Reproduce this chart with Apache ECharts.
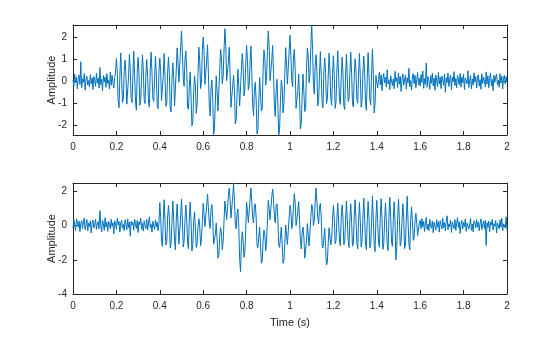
<!DOCTYPE html>
<html>
<head>
<meta charset="utf-8">
<script src="https://cdn.jsdelivr.net/npm/echarts@6/dist/echarts.min.js"></script>
<style>
  html, body { margin: 0; padding: 0; background: #ffffff; }
  #chart { width: 560px; height: 337px; }
</style>
</head>
<body>
<div id="chart"></div>
<script>
// Sample spacing of both recordings (seconds)
const sampleStep = 0.004;

// Upper trace: amplitude samples
const signalTop = [
  0.05, -0.22, 0.31, -0.08, 0.18, -0.35, 0.12, 0.27, -0.15, 0.88,
  -0.30, 0.10, -0.05, 0.34, -0.41, 0.07, 0.22, -0.18, 0.03, -0.27,
  0.29, -0.12, 0.15, -0.38, 0.21, 0.02, -0.24, 0.36, -0.09, 0.14,
  -0.31, 0.62, -0.16, 0.08, -0.44, 0.25, -0.03, 0.19, -0.28, 0.33,
  -0.11, 0.04, -0.36, 0.41, -0.19, 0.26, -0.07, -0.32, 0.17, 0.38,
  1.02, 0.41, -0.88, -1.21, 0.25,
  1.28, 0.19, -0.97, -0.79, 0.44,
  0.95, 0.30, -1.05, -1.12, 0.18,
  1.21, 0.47, -0.74, -0.98, 0.29,
  1.36, 0.22, -0.91, -1.32, 0.40,
  1.08, 0.35, -1.10, -0.85, 0.21,
  1.19, 0.51, -0.83, -1.02, 0.33,
  0.98, 0.16, -0.95, -1.18, 0.48,
  1.31, 0.38, -0.79, -0.93, 0.12,
  1.12, 0.27, -1.08, -1.25, 0.35,
  1.04, 0.45, -0.90, -0.96, 0.24,
  1.25, 0.20, -1.15, -1.04, 0.39,
  1.10, 0.33,
  -1.23, -1.40, 0.09, 0.83, 0.13, -1.13, -1.13, 0.54,
  1.51, 0.82, -0.05, -0.12, 1.53, 2.28, 1.31, 0.13, -0.24, 0.99,
  1.37, 0.55, -1.18, -1.28, -0.26, 0.42, -0.72, -2.03, -1.87, -0.54,
  0.24, -0.16, -1.46, -1.07, 0.34, 1.54, 0.92, -0.34, -0.04, 1.38,
  2.00, 1.36, -0.15, -0.08, 0.94, 1.65, 0.34, -1.10, -1.58, -0.35,
  0.05, -0.75, -2.43, -2.14, -0.95, 0.24, -0.50, -1.36, -1.27, 0.50,
  1.44, 1.10, -0.11, 0.22, 1.42, 2.38, 1.62, 0.02, -0.05, 0.85,
  1.54, 0.32, -1.19, -1.23, -0.20, 0.26, -0.42, -1.95, -1.77, -0.57,
  0.54, -0.25, -1.13, -1.12, 0.49, 1.25, 0.71, -0.67, -0.37, 0.79,
  1.62, 0.94, -0.40, -0.17, 0.85, 1.60, 0.35, -1.09, -1.58, -0.43,
  -0.06, -0.84, -2.40, -2.20, -1.04, 0.16, -0.52, -1.36, -1.25, 0.50,
  1.41, 1.06, -0.19, 0.18, 1.39, 2.28, 1.51, 0.02, 0.06, 0.96,
  1.62, 0.35, -1.09, -1.61, -0.43, 0.08, -1.04, -2.45, -2.22, -0.89,
  0.04, -0.27, -1.44, -1.02, 0.32, 1.52, 0.82, -0.14, -0.20, 1.33,
  2.08, 1.18, 0.03, -0.26, 1.05, 1.44, 0.53, -1.24, -1.32, -0.44,
  0.31, -0.74, -2.18, -1.92, -0.71, 0.32, -0.50, -1.38, -1.26, 0.54,
  1.50, 1.16, -0.08, 0.29, 1.57, 2.55, 1.46,
  -0.09, -0.59, 0.67,
  1.20, 0.44, -1.13, -0.88, 0.31,
  1.34, 0.25, -0.96, -1.21, 0.42,
  1.05, 0.38, -1.02, -0.84, 0.19,
  1.27, 0.51, -0.79, -1.10, 0.30,
  1.15, 0.22, -1.24, -0.95, 0.46,
  1.38, 0.33, -0.87, -1.06, 0.15,
  1.09, 0.41, -1.12, -1.29, 0.27,
  1.22, 0.18, -0.93, -0.82, 0.39,
  1.31, 0.36, -1.05, -1.17, 0.24,
  1.02, 0.47, -0.81, -1.01, 0.33,
  1.26, 0.21, -1.19, -0.90, 0.41,
  1.14, 0.35, -0.98, -1.33, 0.17,
  1.29, 0.28, -0.86, -1.08, 0.36,
  1.47, 0.30, -1.45, -1.02, 0.25,
  0.22, -0.31, 0.08, 0.41, -0.17, 0.29, -0.44, 0.12, 0.35, -0.08,
  0.18, -0.27, 0.52, -0.13, 0.06, -0.38, 0.24, 0.31, -0.21, 0.09,
  -0.35, 0.44, -0.02, 0.16, -0.29, 0.37, -0.14, 0.21, -0.47, 0.10,
  0.33, -0.19, 0.05, 0.27, -0.36, 0.15, -0.09, 0.58, -0.25, 0.02,
  -0.41, 0.19, 0.34, -0.12, 0.26, -0.30, 0.07, 0.39, -0.18, 0.13,
  -0.23, 0.30, -0.06, 0.45, -0.33, 0.11, -0.15, 0.82, -0.28, 0.20,
  0.04, -0.37, 0.25, -0.10, 0.36, -0.22, 0.14, -0.42, 0.28, 0.01,
  -0.26, 0.40, -0.13, 0.18, -0.34, 0.23, 0.06, -0.19, 0.32, -0.51,
  0.15, -0.07, 0.37, -0.24, 0.09, 0.28, -0.39, 0.17, -0.03, 0.43,
  -0.20, 0.12, -0.31, 0.26, 0.05, -0.16, 0.35, -0.27, 0.19, -0.08,
  0.31, -0.40, 0.14, 0.22, -0.12, 0.47, -0.29, 0.03, 0.25, -0.35,
  0.10, -0.18, 0.38, -0.05, 0.21, -0.32, 0.16, 0.29, -0.23, 0.07,
  -0.37, 0.33, -0.11, 0.18, 0.02, -0.26, 0.42, -0.14, 0.24, -0.30,
  0.13, 0.36, -0.21, 0.08, -0.43, 0.27, -0.06, 0.19, 0.31, -0.17,
  0.04, -0.28, 0.34, -0.09, 0.22, -0.36, 0.15, 0.26, -0.13, 0.20,
  -0.05
];

// Lower trace: amplitude samples
const signalBottom = [
  -0.12, 0.34, 0.05, -0.28, 0.41, 0.18, -0.09, 0.27, -0.35, 0.12,
  0.30, -0.16, 0.22, 0.45, -0.24, 0.08, 0.36, -0.31, 0.15, -0.04,
  0.28, -0.42, 0.19, 0.33, -0.13, 0.06, 0.39, -0.22, 0.11, 0.24,
  -0.18, 0.88, 0.02, -0.36, 0.31, 0.14, -0.27, 0.47, -0.08, 0.20,
  -0.33, 0.26, 0.09, -0.19, 0.38, -0.05, 0.17, -0.48, 0.29, 0.13,
  -0.21, 0.43, 0.04, 0.25, -0.37, 0.16, 0.32, -0.14, 0.07, -0.29,
  0.35, 0.10, -0.23, 0.40, -0.11, 0.21, -0.62, 0.27, 0.03, 0.18,
  -0.26, 0.37, 0.12, -0.15, 0.30, -0.40, 0.23, 0.06, 0.44, -0.20,
  0.14, -0.32, 0.29, 0.01, -0.17, 0.36, -0.25, 0.19, 0.52, -0.10,
  0.08, -0.38, 0.26, 0.15, -0.22, 0.34, -0.07, 0.21, -0.30, 0.11,
  1.35, 0.48, -0.92, -1.21, 0.33,
  1.52, 0.29, -1.14, -0.98, 0.45,
  1.18, 0.52, -1.30, -1.05, 0.21,
  1.44, 0.36, -0.89, -1.42, 0.39,
  1.27, 0.15, -1.08, -1.16, 0.50,
  1.56, 0.41, -1.25, -0.94, 0.28,
  1.21, 0.33, -0.97, -1.35, 0.44,
  1.38, 0.26, -1.48, -1.10, 0.19,
  0.81, -0.14, -1.27, -1.05, -0.08, 0.41, -0.02, -1.17, -0.83, 0.24,
  1.31, 0.67, -0.05, -0.13, 1.16, 1.84, 1.06, 0.16, -0.16, 0.95,
  1.24, 0.46, -1.08, -1.16, -0.51, 0.16, -0.78, -1.90, -1.76, -0.65,
  -0.12, -0.41, -1.40, -0.92, 0.28, 1.44, 0.94, 0.35, 0.38, 1.75,
  2.20, 1.52, 0.46, 0.38, 1.70, 2.50, 1.41, 0.10, -0.18, 0.72,
  0.98, -0.12, -1.96, -2.69, -1.02, -0.35, -0.92, -1.85, -1.55, -0.22,
  1.37, 0.83, 0.18, 0.18, 1.55, 2.20, 1.40, 0.47, 0.16, 1.14,
  1.28, 0.48, -1.13, -1.29, -0.70, -0.08, -1.06, -2.20, -2.06, -0.91,
  -0.26, -0.50, -1.47, -0.97, 0.28, 1.48, 0.99, 0.35, 0.36, 1.68,
  2.15, 1.55, 0.56, 0.17, 1.14, 1.28, 0.43, -1.13, -1.27, -0.68,
  -0.08, -1.11, -2.20, -2.04, -1.06, 0.04, -0.51, -1.10, -1.05, 0.45,
  1.19, 0.90, -0.18, 0.14, 1.11, 1.88, 1.31, 0.01, 0.10, 0.80,
  1.41, 0.26, -0.89, -1.36, -0.39, -0.08, -0.68, -1.90, -1.79, -0.88,
  0.12, -0.52, -1.18, -1.09, 0.47, 1.24, 1.03, 0.00, 0.33, 1.35,
  2.20, 1.40, 0.47, 0.11, 1.09, 1.30, 0.48, -1.15, -1.31, -0.72,
  -0.16, -1.21, -2.30, -2.16, -1.03, -0.12, -0.18, -1.13, -0.79, 0.39,
  1.18, 0.42, -1.05, -0.88, 0.36,
  1.31, 0.27, -0.92, -1.17, 0.45,
  1.22, 0.50, -1.11, -0.95, 0.21,
  1.45, 0.33, -0.86, -1.28, 0.40,
  1.28, 0.18, -1.20, -1.02, 0.52,
  1.52, 0.44, -0.98, -1.35, 0.29,
  1.36, 0.25, -1.24, -0.91, 0.47,
  1.61, 0.38, -1.02, -1.40, 0.31,
  1.42, 0.55, -1.30, -1.08, 0.24,
  1.75, 0.36, -1.15, -1.52, 0.43,
  1.48, 0.20, -0.96, -1.26, 0.50,
  1.58, 0.41, -1.38, -1.05, 0.27,
  1.33, 0.30, -1.12, -1.45, 0.46,
  1.66, 0.52, -0.99, -1.21, 0.35,
  1.40, 0.24, -2.00, -1.30, 0.41,
  1.55, 0.37, -1.18, -0.97, 0.22,
  1.29, 0.48, -1.34, -1.12, 0.39,
  1.72, 0.26, -1.06, -1.41, 0.30,
  1.10, 0.35, -0.86, -0.74, 0.28,
  0.72, 0.21, -0.58, -0.49, 0.15,
  0.31, -0.18, 0.42, -0.07, 0.25, -0.34, 0.16, 0.48, -0.22, 0.09,
  -0.29, 0.37, 0.03, -0.15, 0.28, -0.41, 0.20, 0.12, -0.26, 0.35,
  -0.09, 0.23, -0.37, 0.30, 0.06, -0.20, 0.44, -0.13, 0.18, -0.31,
  0.27, 0.58, -0.24, 0.11, -0.06, 0.33, -0.39, 0.21, 0.02, -0.17,
  0.36, -0.28, 0.14, 0.47, -0.11, 0.24, -0.45, 0.08, 0.31, -0.19,
  0.19, -0.05, 0.39, -0.33, 0.15, 0.26, -0.21, 0.04, 0.42, -0.27,
  0.10, -0.36, 0.29, 0.17, -0.14, 0.35, -0.08, 0.22, -0.30, 0.13,
  0.40, -0.23, 0.07, 0.26, -0.16, 0.32, -1.16, 0.18, -0.10, 0.28,
  -0.35, 0.21, 0.05, 0.37, -0.26, 0.12, -0.04, 0.30, -0.42, 0.16,
  0.25, -0.18, 0.34, -0.09, 0.43, -0.31, 0.11, 0.20, -0.14, 0.52,
  -0.25
];

// Axis limits and tick marks
const timeRange = [0, 2];
const timeTickStep = 0.2;
const topRange = [-2.45, 2.55];
const topTicks = [-2, -1, 0, 1, 2];
const bottomRange = [-4, 2.5];
const bottomTicks = [-4, -2, 0, 2];

const axisColor = '#262626';
const font = '"Liberation Sans", Arial, Helvetica, sans-serif';
const lineColor = '#0072BD';

function toPairs(values) {
  return values.map((v, i) => [+(i * sampleStep).toFixed(3), v]);
}

const frameLine = { show: true, onZero: false, lineStyle: { color: axisColor, width: 1 } };
const innerTick = { show: true, inside: true, length: 4, lineStyle: { color: axisColor, width: 1 } };

function timeAxis(gridIndex, withLabels, withName) {
  return [
    {
      type: 'value', gridIndex, position: 'bottom',
      min: timeRange[0], max: timeRange[1], interval: timeTickStep,
      axisLine: frameLine, axisTick: innerTick, splitLine: { show: false },
      axisLabel: { show: withLabels, color: axisColor, fontFamily: font, fontSize: 10, margin: 7 },
      name: withName ? 'Time (s)' : '', nameLocation: 'middle', nameGap: 23,
      nameMoveOverlap: false,
      nameTextStyle: { color: axisColor, fontFamily: font, fontSize: 11 }
    },
    {
      type: 'value', gridIndex, position: 'top',
      min: timeRange[0], max: timeRange[1], interval: timeTickStep,
      axisLine: frameLine, axisTick: innerTick, splitLine: { show: false },
      axisLabel: { show: false }
    }
  ];
}

function ampAxis(gridIndex, range, ticks) {
  return [
    {
      type: 'value', gridIndex, position: 'left',
      min: range[0], max: range[1],
      axisLine: frameLine,
      axisTick: Object.assign({}, innerTick, { customValues: ticks }),
      splitLine: { show: false },
      axisLabel: { color: axisColor, fontFamily: font, fontSize: 10, margin: 6, customValues: ticks },
      name: 'Amplitude', nameLocation: 'middle', nameGap: 16, nameRotate: 90,
      nameMoveOverlap: false,
      nameTextStyle: { color: axisColor, fontFamily: font, fontSize: 11 }
    },
    {
      type: 'value', gridIndex, position: 'right',
      min: range[0], max: range[1],
      axisLine: frameLine,
      axisTick: Object.assign({}, innerTick, { customValues: ticks }),
      splitLine: { show: false },
      axisLabel: { show: false, customValues: ticks }
    }
  ];
}

const chart = echarts.init(document.getElementById('chart'), null, { renderer: 'canvas' });

chart.setOption({
  animation: false,
  backgroundColor: '#ffffff',
  grid: [
    { left: 73, top: 25, width: 434, height: 110 },
    { left: 73, top: 183, width: 434, height: 111 }
  ],
  xAxis: [...timeAxis(0, true, false), ...timeAxis(1, true, true)],
  yAxis: [...ampAxis(0, topRange, topTicks), ...ampAxis(1, bottomRange, bottomTicks)],
  series: [
    {
      type: 'line', xAxisIndex: 0, yAxisIndex: 0,
      data: toPairs(signalTop), showSymbol: false, sampling: null,
      lineStyle: { color: lineColor, width: 1 }, silent: true
    },
    {
      type: 'line', xAxisIndex: 2, yAxisIndex: 2,
      data: toPairs(signalBottom), showSymbol: false, sampling: null,
      lineStyle: { color: lineColor, width: 1 }, silent: true
    }
  ]
});
</script>
</body>
</html>
